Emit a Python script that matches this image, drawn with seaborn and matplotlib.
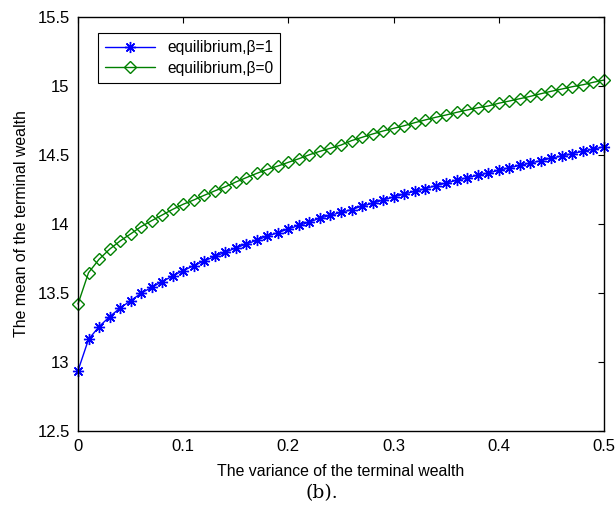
import numpy as np
import pandas as pd
import matplotlib
matplotlib.use("Agg")
import matplotlib.pyplot as plt
import seaborn as sns

# variance grid (0 to 0.5, step 0.01) and the mean
variance = [round(0.01 * i, 2) for i in range(51)]

mean_beta1 = [12.937, 13.164, 13.256, 13.328, 13.391, 13.444, 13.498, 13.541, 13.582, 13.623,
              13.662, 13.698, 13.732, 13.765, 13.795, 13.826, 13.855, 13.882, 13.913, 13.937,
              13.964, 13.990, 14.014, 14.043, 14.063, 14.085, 14.104, 14.130, 14.150, 14.174,
              14.196, 14.217, 14.237, 14.256, 14.278, 14.297, 14.317, 14.336, 14.353, 14.370,
              14.389, 14.408, 14.425, 14.442, 14.459, 14.478, 14.493, 14.510, 14.527, 14.543,
              14.560]

mean_beta0 = [13.420, 13.647, 13.744, 13.817, 13.877, 13.928, 13.981, 14.024, 14.065, 14.106,
              14.143, 14.174, 14.208, 14.240, 14.270, 14.304, 14.336, 14.367, 14.396, 14.420,
              14.447, 14.473, 14.502, 14.527, 14.549, 14.572, 14.604, 14.628, 14.652, 14.674,
              14.693, 14.712, 14.734, 14.754, 14.773, 14.790, 14.809, 14.826, 14.842, 14.855,
              14.875, 14.891, 14.908, 14.925, 14.944, 14.962, 14.978, 14.995, 15.009, 15.027,
              15.043]

xticks = [0, 0.1, 0.2, 0.3, 0.4, 0.5]
yticks = [12.5, 13, 13.5, 14, 14.5, 15, 15.5]

df = pd.DataFrame({"variance": variance, "beta1": mean_beta1, "beta0": mean_beta0})

sns.set_style("white")
plt.rcParams["font.family"] = ["Liberation Sans", "DejaVu Sans"]
plt.rcParams["text.color"] = "black"
plt.rcParams["axes.labelcolor"] = "black"

fig = plt.figure(figsize=(6.16, 5.13), dpi=100)
ax = fig.add_axes([0.1266, 0.1598, 0.8539, 0.8071])

blue = (0, 0, 1)
green = (0, 0.5, 0)

sns.lineplot(data=df, x="variance", y="beta1", ax=ax, color=blue, lw=1.0,
             label="equilibrium,β=1")
sns.lineplot(data=df, x="variance", y="beta0", ax=ax, color=green, lw=1.0,
             label="equilibrium,β=0")

# matlab style markers: asterisk and hollow diamond
l1, l2 = ax.lines[0], ax.lines[1]
l1.set_linestyle("-")
l1.set_marker((8, 2, 0))
l1.set_markersize(8)
l1.set_markeredgewidth(1.0)
l1.set_markeredgecolor(blue)
l1.set_clip_on(False)
l2.set_linestyle("-")
l2.set_marker("D")
l2.set_markersize(6.5)
l2.set_markerfacecolor("none")
l2.set_markeredgecolor(green)
l2.set_markeredgewidth(1.0)
l2.set_clip_on(False)

ax.set_xlim(0, 0.5)
ax.set_ylim(12.5, 15.5)
ax.set_xticks(xticks)
ax.set_yticks(yticks)
ax.set_xticklabels(["%g" % t for t in xticks])
ax.set_yticklabels(["%g" % t for t in yticks])
ax.tick_params(direction="in", length=4, width=0.8, top=True, right=True,
               labelsize=12, pad=6, colors="black")
for s in ax.spines.values():
    s.set_visible(True)
    s.set_color("black")
    s.set_linewidth(1.0)

ax.set_xlabel("The variance of the terminal wealth", fontsize=11.4, labelpad=7, color="black")
ax.set_ylabel("The mean of the terminal wealth", fontsize=11.4, labelpad=6, color="black")

leg = ax.legend(loc="upper left", bbox_to_anchor=(0.038, 0.961), borderaxespad=0,
                fontsize=11.2, frameon=True, fancybox=False, framealpha=1,
                edgecolor="black", handlelength=3.2, borderpad=0.45, labelspacing=0.35)
leg.get_frame().set_linewidth(0.8)
for t in leg.get_texts():
    t.set_color("black")

fig.text(0.523, 0.039, "(b).", ha="center", va="center", fontsize=13.5,
         family="DejaVu Serif", color="black")

fig.savefig("out.png", dpi=100)
